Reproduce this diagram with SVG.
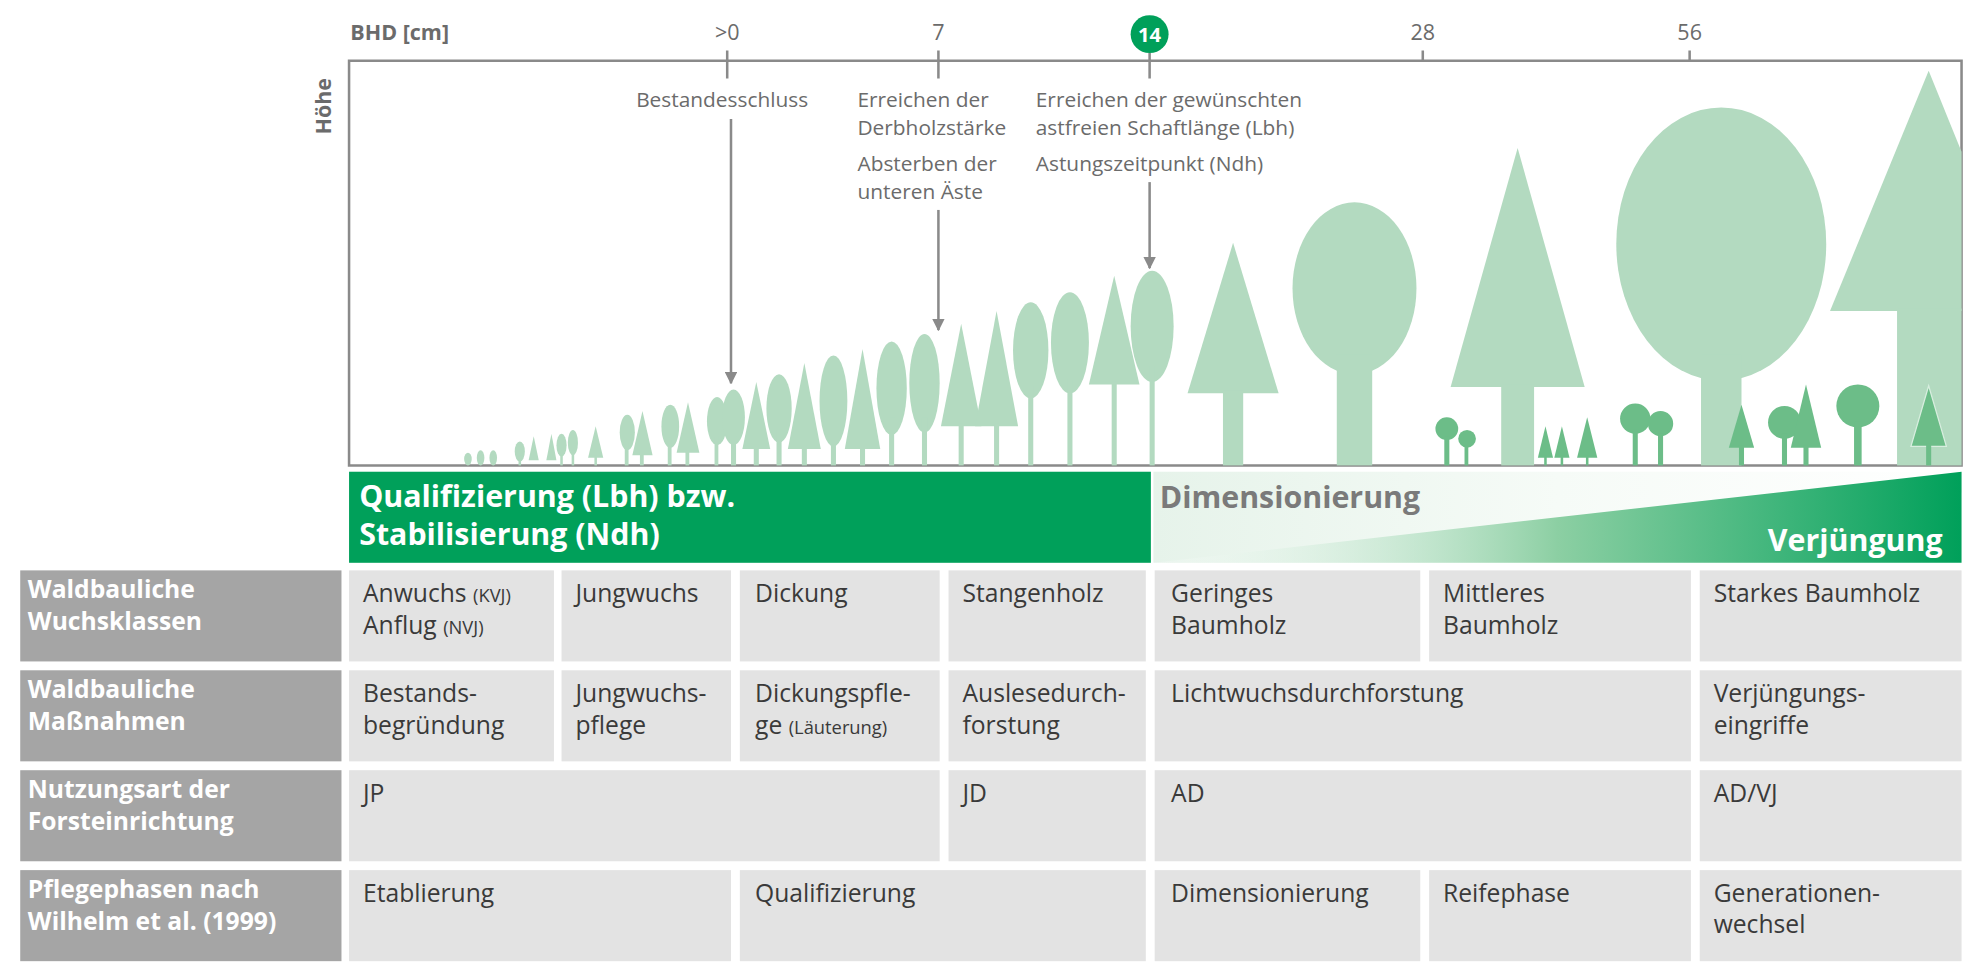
<svg xmlns="http://www.w3.org/2000/svg" width="1983" height="972" viewBox="0 0 1983 972">
<defs>
<style>
text{font-family:"Open Sans","Noto Sans","Liberation Sans",sans-serif;}
.ax{font-size:17px;fill:#6b6b6b}
.ann{font-size:16.5px;fill:#6b6b6b}
.lt{fill:#b3dac0}
.md{fill:#6cbd88}
.cell{fill:#e3e3e3}
.lab{fill:#a5a5a5}
.lb{font-size:19.5px;font-weight:bold;fill:#fff}
.ct{font-size:19.5px;fill:#3a3a3a}
.sm{font-size:14.5px}
.ln{stroke:#8a8a8a;stroke-width:2;fill:none}
.hb{font-size:24px;font-weight:bold}
</style>
<marker id="ah" viewBox="0 0 10 10" refX="9" refY="5" markerWidth="5" markerHeight="5" orient="auto"><path d="M0,0L10,5L0,10z" fill="#8a8a8a"/></marker>
<linearGradient id="bg" x1="0" x2="1" y1="0" y2="0"><stop offset="0" stop-color="#e6f3ea"/><stop offset="0.5" stop-color="#f6fbf7"/><stop offset="1" stop-color="#ffffff"/></linearGradient>
<linearGradient id="tri" x1="0" x2="1" y1="0" y2="0"><stop offset="0" stop-color="#ffffff" stop-opacity="0.2"/><stop offset="0.5" stop-color="#8ccfa3"/><stop offset="1" stop-color="#00a05a"/></linearGradient>
</defs>
<g transform="scale(1.2647)">
<g id="axis">
<text x="277" y="32" class="ax" font-weight="bold">BHD [cm]</text>
<text x="575" y="32" class="ax" text-anchor="middle">&gt;0</text>
<text x="742" y="32" class="ax" text-anchor="middle">7</text>
<circle cx="909" cy="27" r="15" fill="#00a05a"/>
<text x="909" y="33" font-size="16px" font-weight="bold" fill="#fff" text-anchor="middle">14</text>
<text x="1125" y="32" class="ax" text-anchor="middle">28</text>
<text x="1336" y="32" class="ax" text-anchor="middle">56</text>
<text transform="translate(262,84) rotate(-90)" class="ax" font-weight="bold" text-anchor="middle">Höhe</text>
<path class="ln" d="M276,48H1551V368H276Z"/>
<path class="ln" d="M575,40V48M742,40V48M909,42V48M1125,40V48M1336,40V48"/>
</g>
<g id="trees">
<g class="lt">
<ellipse cx="370" cy="363" rx="3" ry="5"/><ellipse cx="380" cy="362" rx="3" ry="6"/><ellipse cx="390" cy="362" rx="3" ry="6"/>
<ellipse cx="411" cy="357" rx="4" ry="8"/><rect x="410" y="360" width="2" height="8"/>
<polygon points="422,345 418,364 426,364"/><polygon points="436,343 432,364 440,364"/>
<ellipse cx="444" cy="352" rx="4" ry="9"/><rect x="443" y="356" width="2" height="12"/>
<ellipse cx="453" cy="350" rx="4" ry="10"/><rect x="452" y="356" width="2" height="12"/>
<polygon points="471,337 465,362 477,362"/><rect x="470" y="360" width="2" height="8"/>
<ellipse cx="496" cy="342" rx="6" ry="14"/><rect x="494" y="350" width="3" height="18"/>
<polygon points="508,325 500,360 516,360"/><rect x="506" y="358" width="3" height="10"/>
<ellipse cx="530" cy="337" rx="7" ry="17"/><rect x="528" y="346" width="3" height="22"/>
<polygon points="544,318 535,358 553,358"/><rect x="542" y="356" width="3" height="12"/>
<ellipse cx="567" cy="333" rx="8" ry="19"/><rect x="565" y="345" width="3" height="23"/>
<ellipse cx="580" cy="330" rx="9" ry="22"/><rect x="578" y="345" width="4" height="23"/>
<polygon points="598,302 587,355 609,355"/><rect x="596" y="353" width="4" height="15"/>
<ellipse cx="616" cy="323" rx="10" ry="27"/><rect x="614" y="340" width="4" height="28"/>
<polygon points="636,287 623,355 649,355"/><rect x="634" y="353" width="4" height="15"/>
<ellipse cx="659" cy="317" rx="11" ry="36"/><rect x="657" y="340" width="4" height="28"/>
<polygon points="682,276 668,355 696,355"/><rect x="680" y="353" width="4" height="15"/>
<ellipse cx="705" cy="307" rx="12" ry="37"/><rect x="703" y="330" width="4" height="38"/>
<ellipse cx="731" cy="303" rx="12" ry="39"/><rect x="729" y="330" width="4" height="38"/>
<polygon points="760,256 744,337 776,337"/><rect x="758" y="335" width="4" height="33"/>
<polygon points="788,246 771,337 805,337"/><rect x="786" y="335" width="4" height="33"/>
<ellipse cx="815" cy="277" rx="14" ry="38"/><rect x="813" y="305" width="4" height="63"/>
<ellipse cx="846" cy="271" rx="15" ry="40"/><rect x="844" y="300" width="4" height="68"/>
<polygon points="881,218 861,304 901,304"/><rect x="879" y="302" width="4" height="66"/>
<ellipse cx="911" cy="258" rx="17" ry="44"/><rect x="909" y="290" width="4" height="78"/>
<polygon points="975,192 939,311 1011,311"/><rect x="967" y="309" width="16" height="59"/>
<ellipse cx="1071" cy="228" rx="49" ry="68"/><rect x="1057" y="280" width="28" height="88"/>
<polygon points="1200,117 1147,306 1253,306"/><rect x="1187" y="304" width="26" height="64"/>
<ellipse cx="1361" cy="193" rx="83" ry="108"/><rect x="1345" y="280" width="32" height="88"/>
<polygon points="1525,56 1447,246 1551,246 1551,120"/><rect x="1500" y="244" width="51" height="124"/>
</g>
<g class="md">
<circle cx="1144" cy="339" r="9"/><rect x="1142" y="345" width="4" height="23"/>
<circle cx="1160" cy="347" r="7"/><rect x="1158" y="352" width="3" height="16"/>
<polygon points="1222,337 1216,362 1228,362"/><rect x="1221" y="360" width="2" height="8"/>
<polygon points="1235,337 1229,362 1241,362"/><rect x="1234" y="360" width="2" height="8"/>
<polygon points="1255,330 1247,362 1263,362"/><rect x="1254" y="360" width="2" height="8"/>
<circle cx="1293" cy="331" r="12"/><rect x="1291" y="340" width="4" height="28"/>
<circle cx="1313" cy="335" r="10"/><rect x="1311" y="343" width="4" height="25"/>
<polygon points="1377,320 1367,354 1387,354"/><rect x="1375" y="352" width="4" height="16"/>
<circle cx="1411" cy="334" r="13"/><rect x="1409" y="343" width="4" height="25"/>
<polygon points="1428,304 1416,354 1440,354"/><rect x="1426" y="352" width="4" height="16"/>
<circle cx="1469" cy="321" r="17"/><rect x="1466" y="333" width="6" height="35"/>
<polygon points="1525,305 1511,353 1539,353" stroke="#d8eedf" stroke-width="1"/><rect x="1523" y="351" width="4" height="17"/>
</g>
</g>
<g id="annotations">
<text class="ann" text-anchor="middle" x="571" y="85">Bestandesschluss</text>
<text class="ann" x="678" y="85">Erreichen der</text>
<text class="ann" x="678" y="107">Derbholzstärke</text>
<text class="ann" x="678" y="135">Absterben der</text>
<text class="ann" x="678" y="157">unteren Äste</text>
<text class="ann" x="819" y="85">Erreichen der gewünschten</text>
<text class="ann" x="819" y="107">astfreien Schaftlänge (Lbh)</text>
<text class="ann" x="819" y="135">Astungszeitpunkt (Ndh)</text>
</g>
<g id="connectors">
<path class="ln" d="M575,48V62M742,48V62M909,48V62"/>
<path class="ln" d="M578,94V303" marker-end="url(#ah)"/>
<path class="ln" d="M742,166V261" marker-end="url(#ah)"/>
<path class="ln" d="M909,144V212" marker-end="url(#ah)"/>
</g>
<g id="phases">
<rect x="276" y="373" width="634" height="72" fill="#00a05a"/>
<text x="284" y="401" class="hb" fill="#fff">Qualifizierung (Lbh) bzw.</text>
<text x="284" y="431" class="hb" fill="#fff">Stabilisierung (Ndh)</text>
<rect x="912" y="373" width="639" height="72" fill="url(#bg)"/>
<polygon points="912,445 1551,373 1551,445" fill="url(#tri)"/>
<text x="917" y="402" class="hb" fill="#7a7a7a">Dimensionierung</text>
<text x="1536" y="436" class="hb" fill="#fff" text-anchor="end">Verjüngung</text>
</g>
<g id="table">
<rect class="lab" x="16" y="451" width="254" height="72"/>
<rect class="lab" x="16" y="530" width="254" height="72"/>
<rect class="lab" x="16" y="609" width="254" height="72"/>
<rect class="lab" x="16" y="688" width="254" height="72"/>
<text class="lb" x="22" y="473">Waldbauliche</text><text class="lb" x="22" y="498">Wuchsklassen</text>
<text class="lb" x="22" y="552">Waldbauliche</text><text class="lb" x="22" y="577">Maßnahmen</text>
<text class="lb" x="22" y="631">Nutzungsart der</text><text class="lb" x="22" y="656">Forsteinrichtung</text>
<text class="lb" x="22" y="710">Pflegephasen nach</text><text class="lb" x="22" y="735">Wilhelm et al. (1999)</text>

<rect class="cell" x="276" y="451" width="162" height="72"/><rect class="cell" x="444" y="451" width="134" height="72"/>
<rect class="cell" x="585" y="451" width="158" height="72"/><rect class="cell" x="750" y="451" width="156" height="72"/>
<rect class="cell" x="913" y="451" width="210" height="72"/><rect class="cell" x="1130" y="451" width="207" height="72"/>
<rect class="cell" x="1344" y="451" width="207" height="72"/>
<text class="ct" x="287" y="476">Anwuchs <tspan class="sm">(KVJ)</tspan></text><text class="ct" x="287" y="501">Anflug <tspan class="sm">(NVJ)</tspan></text>
<text class="ct" x="455" y="476">Jungwuchs</text>
<text class="ct" x="597" y="476">Dickung</text>
<text class="ct" x="761" y="476">Stangenholz</text>
<text class="ct" x="926" y="476">Geringes</text><text class="ct" x="926" y="501">Baumholz</text>
<text class="ct" x="1141" y="476">Mittleres</text><text class="ct" x="1141" y="501">Baumholz</text>
<text class="ct" x="1355" y="476">Starkes Baumholz</text>

<rect class="cell" x="276" y="530" width="162" height="72"/><rect class="cell" x="444" y="530" width="134" height="72"/>
<rect class="cell" x="585" y="530" width="158" height="72"/><rect class="cell" x="750" y="530" width="156" height="72"/>
<rect class="cell" x="913" y="530" width="424" height="72"/><rect class="cell" x="1344" y="530" width="207" height="72"/>
<text class="ct" x="287" y="555">Bestands-</text><text class="ct" x="287" y="580">begründung</text>
<text class="ct" x="455" y="555">Jungwuchs-</text><text class="ct" x="455" y="580">pflege</text>
<text class="ct" x="597" y="555">Dickungspfle-</text><text class="ct" x="597" y="580">ge <tspan class="sm">(Läuterung)</tspan></text>
<text class="ct" x="761" y="555">Auslesedurch-</text><text class="ct" x="761" y="580">forstung</text>
<text class="ct" x="926" y="555">Lichtwuchsdurchforstung</text>
<text class="ct" x="1355" y="555">Verjüngungs-</text><text class="ct" x="1355" y="580">eingriffe</text>

<rect class="cell" x="276" y="609" width="467" height="72"/><rect class="cell" x="750" y="609" width="156" height="72"/>
<rect class="cell" x="913" y="609" width="424" height="72"/><rect class="cell" x="1344" y="609" width="207" height="72"/>
<text class="ct" x="287" y="634">JP</text>
<text class="ct" x="761" y="634">JD</text>
<text class="ct" x="926" y="634">AD</text>
<text class="ct" x="1355" y="634">AD/VJ</text>

<rect class="cell" x="276" y="688" width="302" height="72"/><rect class="cell" x="585" y="688" width="321" height="72"/>
<rect class="cell" x="913" y="688" width="210" height="72"/><rect class="cell" x="1130" y="688" width="207" height="72"/>
<rect class="cell" x="1344" y="688" width="207" height="72"/>
<text class="ct" x="287" y="713">Etablierung</text>
<text class="ct" x="597" y="713">Qualifizierung</text>
<text class="ct" x="926" y="713">Dimensionierung</text>
<text class="ct" x="1141" y="713">Reifephase</text>
<text class="ct" x="1355" y="713">Generationen-</text><text class="ct" x="1355" y="738">wechsel</text>
</g>
</g>
</svg>
